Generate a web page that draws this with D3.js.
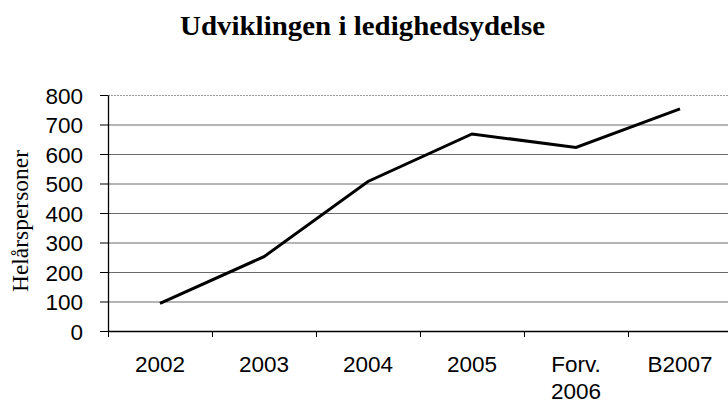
<!DOCTYPE html>
<html>
<head>
<meta charset="utf-8">
<script src="https://cdn.jsdelivr.net/npm/d3@7"></script>
<style>
  html, body { margin: 0; padding: 0; background: #fff; }
  svg { display: block; }
</style>
</head>
<body>
<svg id="chart" width="728" height="404"></svg>
<script>
const categories = ["2002", "2003", "2004", "2005", "Forv.\n2006", "B2007"];
const values = [94, 252, 507, 668, 622, 753];
const yTicks = [0, 100, 200, 300, 400, 500, 600, 700, 800];
const titleText = "Udviklingen i ledighedsydelse";
const yTitle = "Helårspersoner";

(function () {
const svg = d3.select("#chart");
const mLeft = 108, mRight = 732, mTop = 95, mBottom = 331;

const x = d3.scaleBand().domain(categories).range([mLeft, mRight]).paddingInner(0).paddingOuter(0);
const xEdge = d3.scaleLinear().domain([0, categories.length]).range([mLeft, mRight]);
const y = d3.scaleLinear().domain([0, 800]).range([mBottom, mTop]);

// Title
svg.append("text")
  .attr("x", 180).attr("y", 35)
  .attr("textLength", 365).attr("lengthAdjust", "spacingAndGlyphs")
  .style("font-family", "'Liberation Serif', 'Times New Roman', serif")
  .style("font-weight", "bold").style("font-size", "27px")
  .attr("fill", "#000")
  .text(titleText);

// Gridlines
const grid = svg.append("g").attr("transform", `translate(${mLeft},0)`)
  .call(d3.axisLeft(y).tickValues(yTicks.filter(v => v > 0)).tickSize(-(mRight - mLeft)).tickFormat(""));
grid.select(".domain").remove();
grid.selectAll(".tick line")
  .attr("stroke", d => d === 800 ? "#9a9a9a" : "#6a6a6a")
  .attr("stroke-width", 1)
  .attr("stroke-dasharray", d => d === 800 ? "2,1" : null);

// Y axis with ticks and labels
const yAxis = svg.append("g").attr("transform", `translate(${mLeft},0)`)
  .call(d3.axisLeft(y).tickValues(yTicks).tickSize(8).tickPadding(17).tickSizeOuter(0));
yAxis.select(".domain").attr("stroke", "#000").attr("stroke-width", 1.3);
yAxis.selectAll(".tick line").attr("stroke", "#000");
yAxis.selectAll(".tick text")
  .style("font-family", "'Liberation Sans', Arial, sans-serif")
  .style("font-size", "22.5px").attr("fill", "#000").attr("dy", "0.36em");

// X axis line and ticks at band edges
const xAxis = svg.append("g").attr("transform", `translate(0,${mBottom})`)
  .call(d3.axisBottom(xEdge).tickValues(d3.range(0, categories.length + 1)).tickSize(6).tickFormat("").tickSizeOuter(0));
xAxis.select(".domain").attr("stroke", "#000").attr("stroke-width", 1.3);
xAxis.selectAll(".tick line").attr("stroke", "#000");

// X labels
const xl = svg.append("g");
categories.forEach(c => {
  const lines = c.split("\n");
  const cx = x(c) + x.bandwidth() / 2;
  const t = xl.append("text")
    .attr("x", cx)
    .attr("y", 372)
    .attr("text-anchor", "middle")
    .style("font-family", "'Liberation Sans', Arial, sans-serif")
    .style("font-size", "22.5px").attr("fill", "#000");
  lines.forEach((l, i) => {
    t.append("tspan").attr("x", cx).attr("dy", i === 0 ? 0 : 27).text(l);
  });
});

// Y title
svg.append("text")
  .attr("transform", "translate(28,221) rotate(-90)")
  .attr("text-anchor", "middle")
  .attr("textLength", 142).attr("lengthAdjust", "spacingAndGlyphs")
  .style("font-family", "'Liberation Serif', 'Times New Roman', serif")
  .style("font-size", "24px").attr("fill", "#000")
  .text(yTitle);

// Line
const line = d3.line()
  .x((d, i) => x(categories[i]) + x.bandwidth() / 2)
  .y(d => y(d));
svg.append("path").datum(values)
  .attr("d", line)
  .attr("fill", "none").attr("stroke", "#000").attr("stroke-width", 3)
  .attr("stroke-linejoin", "miter");
})();
</script>
</body>
</html>
